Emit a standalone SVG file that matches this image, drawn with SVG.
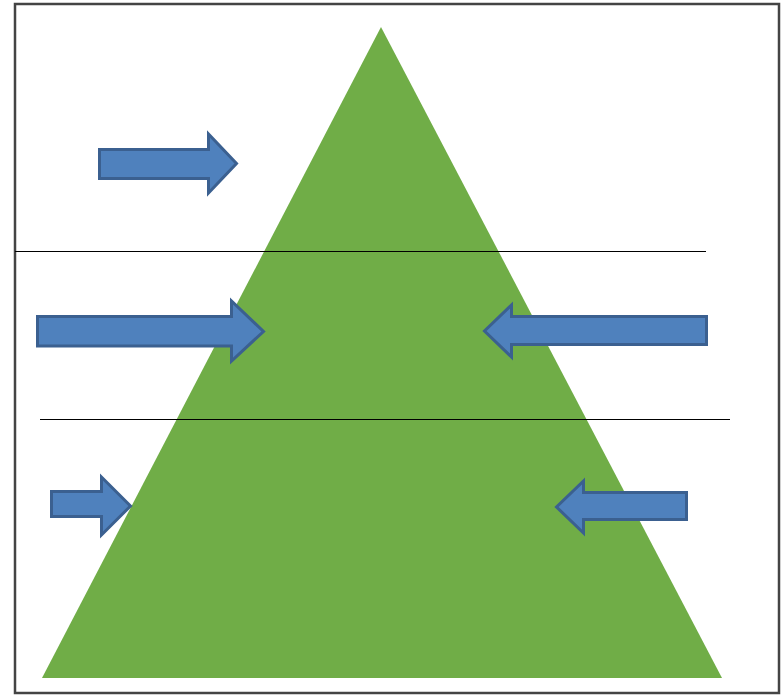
<svg xmlns="http://www.w3.org/2000/svg" width="783" height="695" viewBox="0 0 783 695">
<style>
.arrow{fill:#4f81bd;stroke:#3b6090;stroke-width:3;stroke-linejoin:miter}
.sep{stroke:#000;stroke-width:1.2;fill:none}
</style>
<rect x="0" y="0" width="783" height="695" fill="#fff"/>
<rect x="15" y="4" width="764" height="689" fill="none" stroke="#444" stroke-width="2.5"/>
<g id="pyramid">
<polygon points="381,27 42,678 722,678" fill="#70ad47"/>
</g>
<g id="connectors">
<line class="sep" x1="15" y1="251.5" x2="706" y2="251.5"/>
<line class="sep" x1="40" y1="419.5" x2="730" y2="419.5"/>
</g>
<g id="arrow1"><polygon class="arrow" points="99.5,149.5 208.5,149.5 208.5,134 236.5,163.5 208.5,193 208.5,178.5 99.5,178.5"/></g>
<g id="arrow2"><polygon class="arrow" points="37.5,316.5 231.5,316.5 231.5,301 263.5,331.5 231.5,361 231.5,346 37.5,346"/></g>
<g id="arrow3"><polygon class="arrow" points="706.5,316.5 511.5,316.5 511.5,305 484.5,331 511.5,357 511.5,344.5 706.5,344.5"/></g>
<g id="arrow4"><polygon class="arrow" points="51.5,491.5 101.5,491.5 101.5,477 130.5,506 101.5,535 101.5,516.5 51.5,516.5"/></g>
<g id="arrow5"><polygon class="arrow" points="686.5,492.5 583.5,492.5 583.5,481 556.5,507 583.5,533 583.5,519.5 686.5,519.5"/></g>
</svg>
